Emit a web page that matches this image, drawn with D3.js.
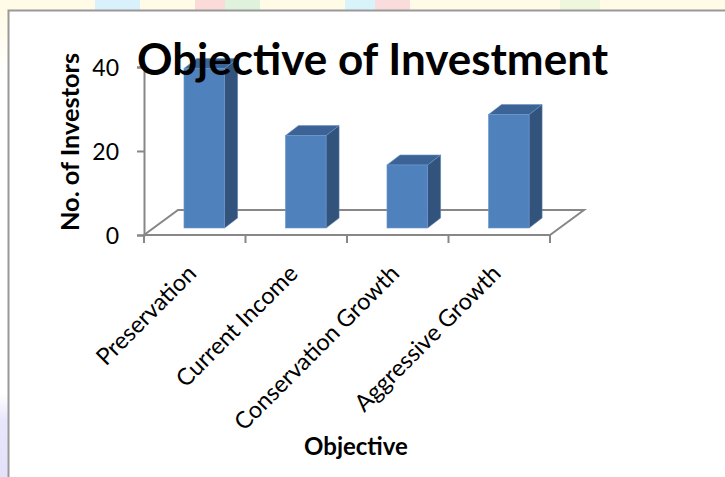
<!DOCTYPE html>
<html>
<head>
<meta charset="utf-8">
<script src="https://cdn.jsdelivr.net/npm/d3@7"></script>
<style>
  body { margin: 0; background: #ffffff; }
  svg { display: block; }
  text { font-family: Lato, "Open Sans", sans-serif; fill: #000; }
</style>
</head>
<body>
<svg id="chart" width="725" height="477"></svg>
<script>
// ---- data ----
const categories = ["Preservation", "Current Income", "Conservation Growth", "Aggressive Growth"];
const investors = [38, 22, 15, 27];
const yTickValues = [0, 20, 40];
const chartTitle = "Objective of Investment";
const xTitle = "Objective";
const yTitle = "No. of Investors";

// ---- layout ----
const W = 725, H = 477;
const svg = d3.select("#chart");

// slide background outside the chart frame
const bg = svg.append("g");
bg.append("rect").attr("x", 0).attr("y", 0).attr("width", W).attr("height", H).attr("fill", "#fffbe6");
const blobs = [
  [95, 45, "#d9f1fb"], [195, 30, "#fbdada"], [225, 35, "#dff3dc"],
  [345, 30, "#d9f3fb"], [375, 35, "#fbdcdc"], [560, 40, "#eef7dc"]
];
blobs.forEach(b => bg.append("rect").attr("x", b[0]).attr("y", 0).attr("width", b[1]).attr("height", 10).attr("fill", b[2]));
const lg = svg.append("defs").append("linearGradient").attr("id", "leftStrip").attr("x1", 0).attr("y1", 0).attr("x2", 0).attr("y2", 1);
lg.append("stop").attr("offset", "0%").attr("stop-color", "#fffbe6");
lg.append("stop").attr("offset", "15%").attr("stop-color", "#ffffff");
lg.append("stop").attr("offset", "82%").attr("stop-color", "#ffffff");
lg.append("stop").attr("offset", "88%").attr("stop-color", "#e8e6fb");
lg.append("stop").attr("offset", "100%").attr("stop-color", "#e4e2fa");
bg.append("rect").attr("x", 0).attr("y", 10).attr("width", 8).attr("height", H - 10).attr("fill", "url(#leftStrip)");

// chart frame
svg.append("rect").attr("x", 8.5).attr("y", 10.5).attr("width", W + 10).attr("height", H + 10)
  .attr("fill", "#ffffff").attr("stroke", "#999999").attr("stroke-width", 2);

// scales
const x = d3.scaleBand().domain(categories).range([144, 550]).paddingInner(0).paddingOuter(0);
const y = d3.scaleLinear().domain([0, 40]).range([235, 67]);

// 3D oblique offsets
const floorDX = 34, floorDY = -25;         // floor depth
const planeF = 0.28;                        // bars stand at this depth fraction
const pX = floorDX * planeF, pY = floorDY * planeF;
const barDX = 13, barDY = -10;              // bar depth
const barW = x.bandwidth() * 0.4;

const gridColor = "#878787";

// floor
const x0 = x.range()[0], x1 = x.range()[1], y0 = y(0);
svg.append("path")
  .attr("d", `M${x0},${y0} L${x1},${y0} L${x1 + floorDX},${y0 + floorDY} L${x0 + floorDX},${y0 + floorDY} Z`)
  .attr("fill", "none").attr("stroke", gridColor).attr("stroke-width", 2).attr("stroke-linejoin", "miter");

// value axis
const yAxis = d3.axisLeft(y).tickValues(yTickValues).tickSize(7).tickPadding(18).tickFormat(d3.format("d"));
const ya = svg.append("g").attr("transform", `translate(${x0},0)`).call(yAxis);
ya.select(".domain").attr("stroke", gridColor).attr("stroke-width", 2);
ya.selectAll(".tick line").attr("stroke", gridColor).attr("stroke-width", 2);
ya.selectAll(".tick text").attr("font-size", 23).attr("font-family", "Lato, sans-serif").attr("fill", "#000").attr("dy", "0.38em");

// category tick marks at band boundaries
const boundaries = categories.map(c => x(c)).concat([x1]);
svg.append("g").selectAll("line").data(boundaries).join("line")
  .attr("x1", d => d).attr("x2", d => d).attr("y1", y0).attr("y2", y0 + 8)
  .attr("stroke", gridColor).attr("stroke-width", 2);

// category labels, rotated -45
svg.append("g").selectAll("text").data(categories).join("text")
  .attr("transform", c => `translate(${x(c) + x.bandwidth() / 2 + 3},${y0 + 40}) rotate(-45)`)
  .attr("text-anchor", "end")
  .attr("font-size", 23.5)
  .text(c => c);

// bars
const bars = svg.append("g");
const data = categories.map((c, i) => ({ c, v: investors[i] }));
data.forEach(d => {
  const bx = x(d.c) + (x.bandwidth() - barW) / 2 + pX;
  const by0 = y(0) + pY;
  const by1 = y(d.v) + pY;
  // side
  bars.append("path")
    .attr("d", `M${bx + barW},${by1} L${bx + barW + barDX},${by1 + barDY} L${bx + barW + barDX},${by0 + barDY} L${bx + barW},${by0} Z`)
    .attr("fill", "#31537c").attr("stroke", "#5a7fb0").attr("stroke-width", 0.6);
  // top
  bars.append("path")
    .attr("d", `M${bx},${by1} L${bx + barDX},${by1 + barDY} L${bx + barW + barDX},${by1 + barDY} L${bx + barW},${by1} Z`)
    .attr("fill", "#3b6396").attr("stroke", "#6a92c6").attr("stroke-width", 0.6);
  // front
  bars.append("rect")
    .attr("x", bx).attr("y", by1).attr("width", barW).attr("height", by0 - by1)
    .attr("fill", "#4f81bd").attr("stroke", "#6e97cc").attr("stroke-width", 0.6);
});

// titles
svg.append("text").attr("x", 137).attr("y", 75)
  .attr("font-size", 43).attr("font-weight", "bold")
  .attr("textLength", 471).attr("lengthAdjust", "spacingAndGlyphs")
  .text(chartTitle);

svg.append("text").attr("transform", "translate(79,142) rotate(-90)")
  .attr("text-anchor", "middle").attr("font-size", 24).attr("font-weight", "bold")
  .attr("textLength", 178).attr("lengthAdjust", "spacingAndGlyphs")
  .text(yTitle);

svg.append("text").attr("x", 356).attr("y", 455)
  .attr("text-anchor", "middle").attr("font-size", 24).attr("font-weight", "bold")
  .text(xTitle);
</script>
</body>
</html>
